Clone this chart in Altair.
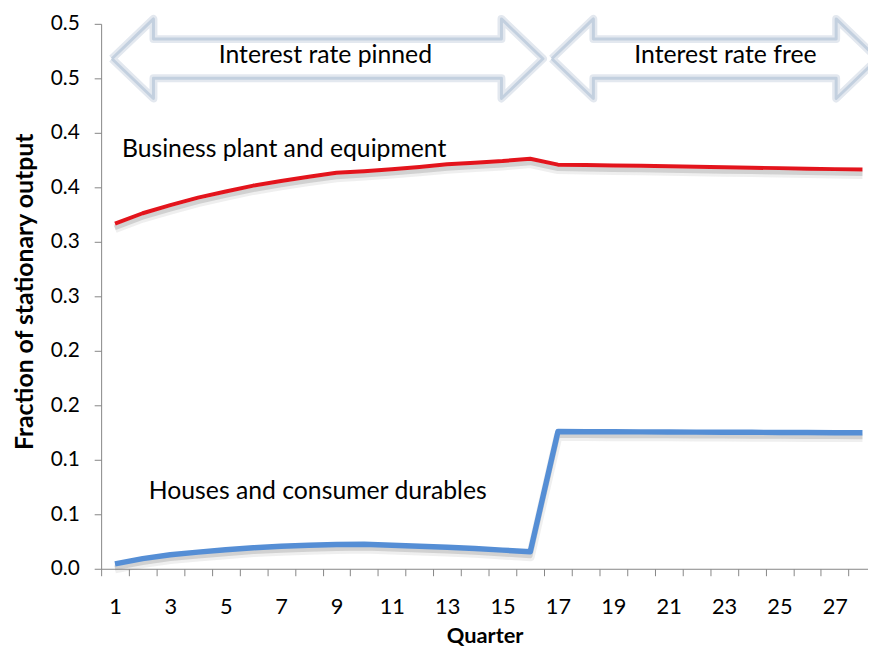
import altair as alt
import pandas as pd

# ---------------- data ----------------
quarters = list(range(1, 29))
business = [0.3166, 0.3262, 0.3336, 0.3405, 0.3462, 0.3516, 0.3558, 0.3597,
            0.3633, 0.3648, 0.3666, 0.3687, 0.3711, 0.3726, 0.3741, 0.3762,
            0.3708, 0.3704, 0.3700, 0.3697, 0.3693, 0.3688, 0.3684, 0.3680,
            0.3676, 0.3671, 0.3667, 0.3663]
houses = [0.0045, 0.0093, 0.0129, 0.0153, 0.0174, 0.0193, 0.0206, 0.0215,
          0.0222, 0.0225, 0.0216, 0.0207, 0.0198, 0.0186, 0.0171, 0.0156,
          0.1259, 0.1258, 0.1257, 0.1256, 0.1255, 0.1254, 0.1253, 0.1252,
          0.1251, 0.1250, 0.1249, 0.1248]
series_names = ["Business plant and equipment", "Houses and consumer durables"]
series_colors = ["#E3141C", "#558ED5"]
series_label_x = [1.25, 2.22]
series_label_y = [0.3849, 0.0710]

# the reference rounds its 0.05-step ticks to one decimal (0.0, 0.1, 0.1, 0.2, ...)
y_tick_values = [0.0, 0.05, 0.1, 0.150001, 0.2, 0.25, 0.3, 0.350001, 0.4, 0.45, 0.5]
x_label_values = [1, 3, 5, 7, 9, 11, 13, 15, 17, 19, 21, 23, 25, 27]
x_tick_values = [0.5, 1.5, 2.5, 3.5, 4.5, 5.5, 6.5, 7.5, 8.5, 9.5, 10.5, 11.5,
                 12.5, 13.5, 14.5, 15.5, 16.5, 17.5, 18.5, 19.5, 20.5, 21.5,
                 22.5, 23.5, 24.5, 25.5, 26.5, 27.5]

arrow_labels = ["Interest rate pinned", "Interest rate free"]
arrow_from = [0.89, 16.78]
arrow_to = [16.46, 28.55]
arrow_label_x = [8.6, 23.05]
arrow_label_y = [0.4710, 0.4715]
arrow_mid = 0.4680

# ---------------- style ----------------
FONT = "Lato"
AXIS_GREY = "#868686"
TXT = "#000000"
HEAD_LEN = 1.5
SHAFT_HALF = 0.018
HEAD_HALF = 0.0365
W, H = 774, 550

rows = []
for name, vals in zip(series_names, [business, houses]):
    for q, v in zip(quarters, vals):
        rows.append({"quarter": q, "value": v, "series": name})
df = pd.DataFrame(rows)

labels_df = pd.DataFrame({"x": series_label_x, "y": series_label_y, "text": series_names})

arrow_rows = []
for lab, a0, a1 in zip(arrow_labels, arrow_from, arrow_to):
    h0, h1 = a0 + HEAD_LEN, a1 - HEAD_LEN
    m = arrow_mid
    pts = [(a0, m), (h0, m + HEAD_HALF), (h0, m + SHAFT_HALF), (h1, m + SHAFT_HALF),
           (h1, m + HEAD_HALF), (a1, m), (h1, m - HEAD_HALF), (h1, m - SHAFT_HALF),
           (h0, m - SHAFT_HALF), (h0, m - HEAD_HALF), (a0, m)]
    for k, (px, py) in enumerate(pts):
        arrow_rows.append({"arrow": lab, "k": k, "x": px, "y": py})
arrows_df = pd.DataFrame(arrow_rows)
arrow_text_df = pd.DataFrame({"x": arrow_label_x, "y": arrow_label_y, "text": arrow_labels})

xs = alt.Scale(domain=[0.5, 28.2], nice=False, zero=False)
ys = alt.Scale(domain=[0, 0.5], nice=False, zero=True)
color = alt.Color("series:N", scale=alt.Scale(domain=series_names, range=series_colors),
                  legend=None)

tick_axis = alt.Axis(values=x_tick_values, labels=False, ticks=True, tickSize=7,
                     tickColor=AXIS_GREY, domain=True, domainColor=AXIS_GREY,
                     grid=False, title=None, orient="bottom")
label_axis = alt.Axis(values=x_label_values, ticks=False, tickSize=0, domain=False,
                      grid=False, orient="bottom", labelFont=FONT, labelFontSize=22,
                      labelColor=TXT, labelPadding=38, labelBaseline="middle",
                      labelFlush=False, title="Quarter", titleFont=FONT,
                      titleFontSize=22, titleFontWeight="bold", titleColor=TXT,
                      titleY=67, titleBaseline="middle")
y_axis = alt.Axis(values=y_tick_values, grid=False, tickSize=7, tickColor=AXIS_GREY,
                  domain=True, domainColor=AXIS_GREY, orient="left", format=".1f",
                  labelFont=FONT, labelFontSize=21, labelColor=TXT, labelPadding=15,
                  labelFlush=False,
                  title="Fraction of stationary output", titleFont=FONT,
                  titleFontSize=25, titleFontWeight="bold", titleColor=TXT,
                  titleX=-77, titleY=270, titleBaseline="middle")

base = alt.Chart(df)

arrow_glow = alt.Chart(arrows_df).mark_line(stroke="#e3e8ef", strokeWidth=8, clip=False,
                                            strokeJoin="round").encode(
    x=alt.X("x:Q", scale=xs, axis=None), y=alt.Y("y:Q", scale=ys, axis=None),
    detail="arrow:N", order="k:Q")
arrow_line = alt.Chart(arrows_df).mark_line(stroke="#c3d0df", strokeWidth=3, clip=False,
                                            strokeJoin="round").encode(
    x=alt.X("x:Q", scale=xs, axis=None), y=alt.Y("y:Q", scale=ys, axis=None),
    detail="arrow:N", order="k:Q")
arrow_text = alt.Chart(arrow_text_df).mark_text(font=FONT, fontSize=25, color=TXT,
                                                 align="center", baseline="middle").encode(
    x=alt.X("x:Q", scale=xs, axis=None), y=alt.Y("y:Q", scale=ys, axis=None), text="text:N")

shadow_wide = base.transform_calculate(ys_="datum.value - 0.0045").mark_line(
    stroke="#7f7f7f", strokeWidth=9, opacity=0.12, strokeJoin="round").encode(
    x=alt.X("quarter:Q", scale=xs, axis=None), y=alt.Y("ys_:Q", scale=ys, axis=None),
    detail="series:N")
shadow = base.transform_calculate(ys_="datum.value - 0.0038").mark_line(
    stroke="#8c8c8c", strokeWidth=4.5, opacity=0.3, strokeJoin="round").encode(
    x=alt.X("quarter:Q", scale=xs, axis=None), y=alt.Y("ys_:Q", scale=ys, axis=None),
    detail="series:N")

red = base.transform_filter(alt.datum.series == series_names[0]).mark_line(
    strokeWidth=4, strokeJoin="round").encode(
    x=alt.X("quarter:Q", scale=xs, axis=tick_axis),
    y=alt.Y("value:Q", scale=ys, axis=y_axis), color=color)
blue = base.transform_filter(alt.datum.series == series_names[1]).mark_line(
    strokeWidth=5.5, strokeJoin="round").encode(
    x=alt.X("quarter:Q", scale=xs, axis=label_axis),
    y=alt.Y("value:Q", scale=ys, axis=None), color=color)

series_text = alt.Chart(labels_df).mark_text(font=FONT, fontSize=25, color=TXT,
                                              align="left", baseline="middle").encode(
    x=alt.X("x:Q", scale=xs, axis=None), y=alt.Y("y:Q", scale=ys, axis=None), text="text:N")

chart = alt.layer(arrow_glow, arrow_line, arrow_text, shadow_wide, shadow, red, blue,
                  series_text).resolve_axis(x="independent", y="independent").properties(
    width=W, height=H, background="white",
    autosize=alt.AutoSizeParams(type="none"),
    padding={"left": 94, "top": 13, "right": 0, "bottom": 80},
).configure_view(stroke=None)

chart.save("out.html", embed_options={"renderer": "svg", "actions": False})
